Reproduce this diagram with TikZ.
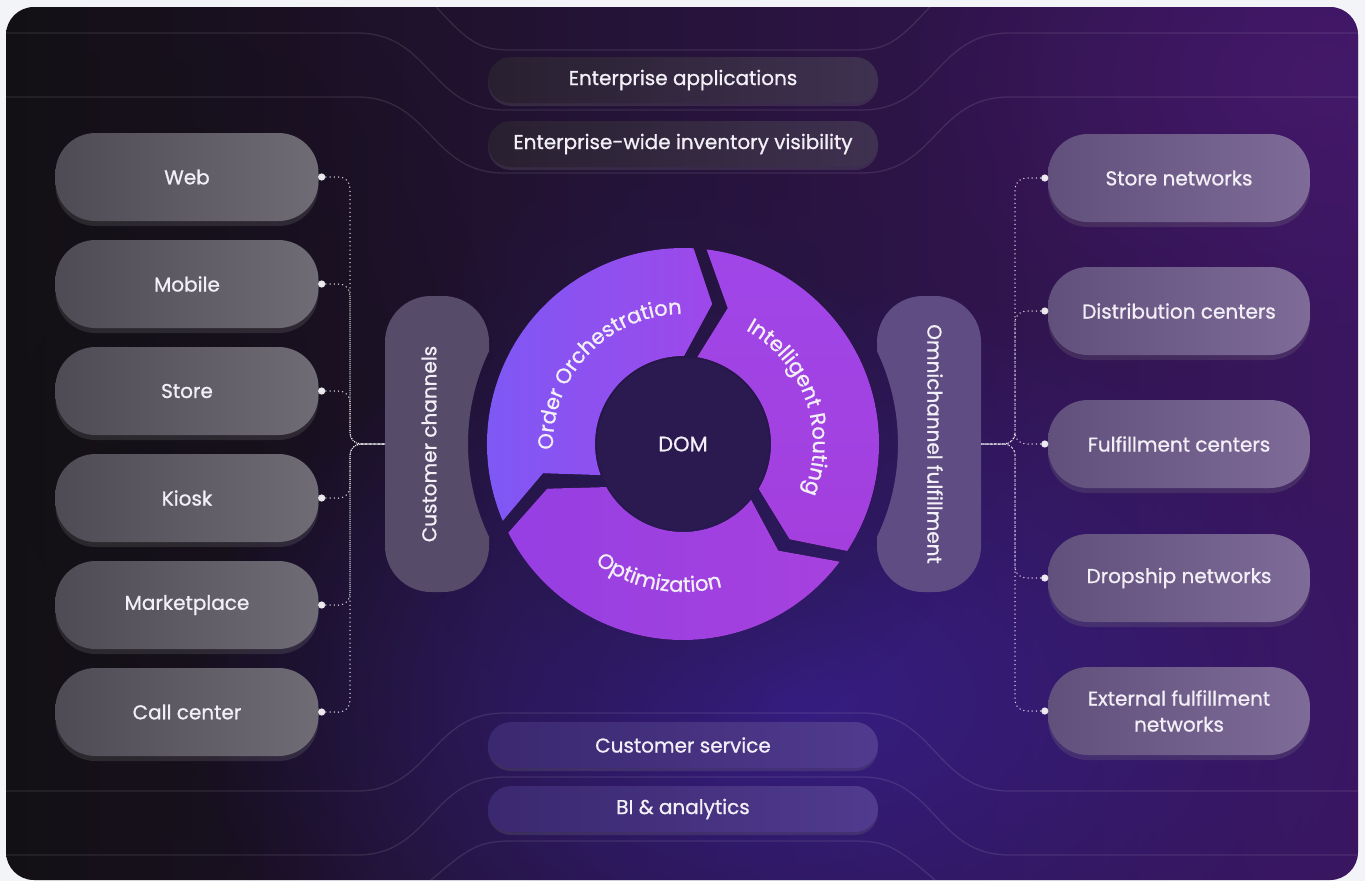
\documentclass[tikz,border=0pt]{standalone}
\usepackage{fontspec}
\setmainfont{Poppins}[FakeBold=0.9]
\usetikzlibrary{decorations.text,fadings,shadows}

\definecolor{pagebg}{HTML}{F3F4F8}
\definecolor{bgL}{HTML}{131015}
\definecolor{bgM}{HTML}{1E1530}
\definecolor{bgR}{HTML}{3A1660}
\definecolor{glowB}{HTML}{3A2198}
\definecolor{glowP}{HTML}{4A1A70}
\definecolor{lnL}{HTML}{4E4B54}
\definecolor{lnR}{HTML}{6F6C76}
\definecolor{rnL}{HTML}{62507C}
\definecolor{rnR}{HTML}{7E6B98}
\definecolor{tpL}{HTML}{282030}
\definecolor{tpR}{HTML}{3F3150}
\definecolor{bpL}{HTML}{3A2870}
\definecolor{bpR}{HTML}{503B8E}
\definecolor{ccFill}{HTML}{564B68}
\definecolor{ofFill}{HTML}{5F4C82}
\definecolor{haloC}{HTML}{24184A}
\definecolor{ooL}{HTML}{7B5AF6}
\definecolor{ooR}{HTML}{9E48EA}
\definecolor{irT}{HTML}{A046E8}
\definecolor{irB}{HTML}{A33FDD}
\definecolor{opL}{HTML}{963FE2}
\definecolor{opR}{HTML}{A641DE}
\definecolor{domC}{HTML}{2A1A50}
\definecolor{txt}{HTML}{F2EFF7}

\tikzfading[name=softglow, inner color=transparent!0, outer color=transparent!100]

\newcommand\labelfont{\fontsize{20}{26}\selectfont}
\newcommand\wheelfont{\fontsize{21}{24}\selectfont}

% wheel geometry: outer, middle, inner radius, tip offset, half-gap angles
\newcommand\Ro{196}
\newcommand\Rm{143}
\newcommand\Ri{88}
\newcommand\tipA{10}
\newcommand\dO{1.9}
\newcommand\dM{3.2}
\newcommand\dI{4.3}
% one arrow segment of the wheel, from gap angle #1 clockwise to gap angle #2
\newcommand\wheelseg[3]{%
  \fill[#3] ({#1-\dO}:\Ro) arc[start angle={#1-\dO}, end angle={#2+\dO}, radius=\Ro]
    -- ({#2-\tipA+\dM}:\Rm) -- ({#2+\dI}:\Ri)
    arc[start angle={#2+\dI}, end angle={#1-\dI}, radius=\Ri]
    -- ({#1-\tipA-\dM}:\Rm) -- cycle;}

\begin{document}
\begin{tikzpicture}[x=1pt,y=1pt,
  bgline/.style={draw=white, draw opacity=0.1, line width=1.3pt},
  lnode/.style={rounded corners=40pt, minimum width=263pt, minimum height=88pt,
    left color=lnL, right color=lnR, text=txt, font=\labelfont, align=center,
    drop shadow={shadow xshift=0pt, shadow yshift=-5pt, opacity=0.22}},
  rnode/.style={lnode, left color=rnL, right color=rnR, minimum width=262pt},
  tpill/.style={rounded corners=23pt, minimum width=390pt, minimum height=46pt,
    left color=tpL, right color=tpR, text=txt, font=\labelfont,
    drop shadow={shadow xshift=0pt, shadow yshift=-3pt, opacity=0.22}},
  bpill/.style={tpill, left color=bpL, right color=bpR},
  dotline/.style={draw=white, draw opacity=0.85, line width=1.5pt, line cap=round,
    dash pattern=on 0pt off 4.2pt, rounded corners=11pt},
  dotend/.style={fill=white, fill opacity=0.9}]

\useasboundingbox (0,0) rectangle (1365,-881);
\fill[pagebg] (0,0) rectangle (1365,-881);

% dark panel with colour glows and flowing guide lines
\begin{scope}
  \clip[rounded corners=28pt] (6,-7) rectangle (1358,-880);
  \shade[left color=bgL, middle color=bgM, right color=bgR] (0,0) rectangle (1365,-881);
  \fill[bgL, path fading=softglow, opacity=0.7] (120,-450) ellipse (380 and 560);
  \fill[glowB, path fading=softglow, opacity=0.75] (800,-700) ellipse (620 and 420);
  \fill[glowP, path fading=softglow, opacity=0.6] (1320,-80) ellipse (420 and 300);
  \fill[haloC, path fading=softglow, opacity=0.8] (683,-444) circle (300);
  \draw[bgline] (0,-33) -- (357,-33) .. controls (431,-33) and (430,-110) .. (504,-110)
    -- (862,-110) .. controls (936,-110) and (935,-33) .. (1009,-33) -- (1365,-33);
  \draw[bgline] (0,-97) -- (357,-97) .. controls (431,-97) and (430,-173) .. (504,-173)
    -- (862,-173) .. controls (936,-173) and (935,-97) .. (1009,-97) -- (1365,-97);
  \draw[bgline] (430,0) .. controls (470,-45) and (480,-50) .. (513,-50)
    -- (853,-50) .. controls (886,-50) and (896,-45) .. (936,0);
  \draw[bgline] (0,-791) -- (357,-791) .. controls (431,-791) and (430,-713) .. (504,-713)
    -- (862,-713) .. controls (936,-713) and (935,-791) .. (1009,-791) -- (1365,-791);
  \draw[bgline] (0,-855) -- (357,-855) .. controls (431,-855) and (430,-777) .. (504,-777)
    -- (862,-777) .. controls (936,-777) and (935,-855) .. (1009,-855) -- (1365,-855);
  \draw[bgline] (430,-881) .. controls (470,-846) and (480,-841) .. (513,-841)
    -- (853,-841) .. controls (886,-841) and (896,-846) .. (936,-881);
\end{scope}

% top and bottom bands
\node[tpill] (ea)  at (683,-80)  {Enterprise applications};
\node[tpill] (eiv) at (683,-144) {Enterprise-wide inventory visibility};
\node[bpill] (cs)  at (683,-745) {Customer service};
\node[bpill] (bi)  at (683,-809) {BI \& analytics};

% side pills, hollowed by the ring around the wheel
\begin{scope}[even odd rule]
  \clip (370,-280) rectangle (1000,-610) (683,-444) circle (215);
  \fill[ccFill, rounded corners=46pt] (385,-296) rectangle (489,-592);
  \fill[ofFill, rounded corners=46pt] (877,-296) rectangle (981,-592);
\end{scope}
\node[rotate=90, text=txt, font=\labelfont] (cctext) at (429,-444) {Customer channels};
\node[rotate=-90, text=txt, font=\labelfont] (oftext) at (935,-444) {Omnichannel fulfillment};
\coordinate (ccW) at (385,-444);
\coordinate (ofE) at (981,-444);
\coordinate (lbus) at (350,-444);
\coordinate (rbus) at (1015,-444);

% customer channels
\foreach \n/\t/\y in {web/Web/177, mobile/Mobile/284, store/Store/391,
    kiosk/Kiosk/498, market/Marketplace/605, call/Call center/712}{
  \node[lnode] (\n) at (187,-\y) {\t};
}
% fulfillment networks
\foreach \n/\t/\y in {sn/Store networks/178, dc/Distribution centers/311,
    fc/Fulfillment centers/444, dn/Dropship networks/578,
    ef/{External fulfillment\\networks}/711}{
  \node[rnode] (\n) at (1179,-\y) {\t};
}

% dotted links into the side pills
\foreach \n in {web,mobile,store,kiosk,market,call}{
  \draw[dotline] ([xshift=3pt]\n.east) -| (lbus) -- (ccW);
  \fill[dotend] ([xshift=3pt]\n.east) circle (3.6);
}
\foreach \n in {sn,dc,fc,dn,ef}{
  \draw[dotline] ([xshift=-3pt]\n.west) -| (rbus) -- (ofE);
  \fill[dotend] ([xshift=-3pt]\n.west) circle (3.6);
}

% DOM wheel
\begin{scope}[shift={(683,-444)}]
  \wheelseg{205}{85}{left color=ooL, right color=ooR}
  \wheelseg{85}{-35}{top color=irT, bottom color=irB}
  \wheelseg{325}{205}{left color=opL, right color=opR}
  \fill[domC] (0,0) circle (\Ri-2);
  \node[text=txt, font=\fontsize{21}{24}\selectfont] (dom) at (0,0) {DOM};
  \path[decorate, decoration={text along path, text align=center, text color=txt,
      text={|\wheelfont|Order Orchestration}}]
    (191:130) arc[start angle=191, end angle=82, radius=130];
  \path[decorate, decoration={text along path, text align=center, text color=txt,
      text={|\wheelfont|Intelligent Routing}}]
    (74:130) arc[start angle=74, end angle=-35, radius=130];
  \path[decorate, decoration={text along path, text align=center, text color=txt,
      text={|\wheelfont|Optimization}}]
    (205:148) arc[start angle=205, end angle=314, radius=148];
\end{scope}
\end{tikzpicture}
\end{document}
